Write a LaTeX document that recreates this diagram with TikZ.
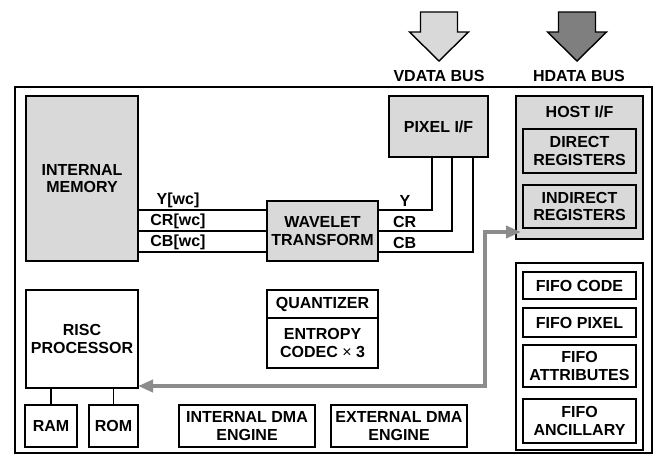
\documentclass[tikz,border=0pt]{standalone}
\usepackage{fontspec}
\setsansfont{Liberation Sans}
\usepackage{tikz}
\usetikzlibrary{arrows.meta,positioning}
\definecolor{chipgray}{HTML}{D9D9D9}
\definecolor{busgray}{HTML}{8C8C8C}
\definecolor{hostgray}{HTML}{7F7F7F}

\begin{document}
\begin{tikzpicture}[
 x=1pt,y=-1pt,font=\sffamily\bfseries\fontsize{16}{17.5}\selectfont,
 blk/.style={draw,line width=1.4pt,inner sep=0pt,outer sep=0pt,
   align=center,anchor=north west},
 gblk/.style={blk,fill=chipgray},
 wblk/.style={blk,fill=white},
 sig/.style={line width=1.4pt},
 lbl/.style={inner sep=0pt},
 bus/.style={{Triangle[length=15pt,width=12pt]}-{Triangle[length=15pt,width=12pt]},
   line width=4pt,busgray},
 fat/.style={draw,line width=1.4pt,line join=miter}
]
\useasboundingbox (0,0) rectangle (655,456);
% data buses coming in from outside
\draw[fat,fill=chipgray] (420.5,12) -- (457.5,12) -- (457.5,32) -- (468.5,32)
 -- (439,61) -- (409.5,32) -- (420.5,32) -- cycle;
\draw[fat,fill=hostgray] (558.5,12) -- (595.5,12) -- (595.5,32) -- (606.5,32)
 -- (577,61) -- (547.5,32) -- (558.5,32) -- cycle;
\node[lbl] (vdata) at (439,76) {VDATA BUS};
\node[lbl] (hdata) at (579,76) {HDATA BUS};
% chip outline
\draw[line width=2pt] (15,87) rectangle (652,453);
% blocks
\node[gblk,minimum width=112pt,minimum height=165pt] (mem) at (26,96) {INTERNAL\\MEMORY};
\node[gblk,minimum width=99pt,minimum height=61pt] (pixif) at (389,96) {PIXEL I/F};
\node[gblk,minimum width=111pt,minimum height=60pt] (wavelet) at (267,201) {WAVELET\\TRANSFORM};
\node[gblk,minimum width=127pt,minimum height=143pt] (host) at (516,96) {};
\node[lbl] (hostlbl) at (579.5,112) {HOST I/F};
\node[gblk,minimum width=113pt,minimum height=44pt] (direct) at (523,129) {DIRECT\\REGISTERS};
\node[gblk,minimum width=113pt,minimum height=43pt] (indirect) at (523,185) {INDIRECT\\REGISTERS};
\node[wblk,minimum width=127pt,minimum height=187pt] (fifo) at (516,263) {};
\node[wblk,minimum width=113pt,minimum height=27pt] (fcode) at (523,272) {FIFO CODE};
\node[wblk,minimum width=113pt,minimum height=29pt] (fpixel) at (523,308) {FIFO PIXEL};
\node[wblk,minimum width=113pt,minimum height=42pt] (fattr) at (523,345) {FIFO\\ATTRIBUTES};
\node[wblk,minimum width=113pt,minimum height=44pt] (fanc) at (523,399) {FIFO\\ANCILLARY};
\node[wblk,minimum width=112pt,minimum height=98pt] (risc) at (26,290) {RISC\\PROCESSOR};
\node[wblk,minimum width=52pt,minimum height=42pt] (ram) at (25,405) {RAM};
\node[wblk,minimum width=49pt,minimum height=42pt] (rom) at (89,405) {ROM};
\node[wblk,minimum width=136pt,minimum height=42pt] (intdma) at (179,405) {INTERNAL DMA\\ENGINE};
\node[wblk,minimum width=136pt,minimum height=42pt] (extdma) at (331,405) {EXTERNAL DMA\\ENGINE};
\node[wblk,minimum width=111pt,minimum height=28pt] (quant) at (267,290) {QUANTIZER};
\node[wblk,minimum width=111pt,minimum height=50pt,below=0pt of quant] (entropy)
 {ENTROPY\\CODEC {\mdseries ×} 3};
% component signals
\coordinate (yw) at ([yshift=21pt]wavelet.west);
\coordinate (crw) at (wavelet.west);
\coordinate (cbw) at ([yshift=-21pt]wavelet.west);
\draw[sig] (yw -| mem.east) -- node[lbl,pos=0.31,yshift=10pt] {Y[wc]} (yw);
\draw[sig] (crw -| mem.east) -- node[lbl,pos=0.31,yshift=10pt] {CR[wc]} (crw);
\draw[sig] (cbw -| mem.east) -- node[lbl,pos=0.31,yshift=10pt] {CB[wc]} (cbw);
\draw[sig] ([yshift=21pt]wavelet.east) -| node[lbl,pos=0.25,yshift=9pt] {Y}
 ([xshift=-6.5pt]pixif.south);
\draw[sig] (wavelet.east) -| node[lbl,pos=0.18,yshift=9pt] {CR}
 ([xshift=13.5pt]pixif.south);
\draw[sig] ([yshift=-21pt]wavelet.east) -| node[lbl,pos=0.14,yshift=9pt] {CB}
 ([xshift=34.5pt]pixif.south);
\draw[sig] (ram.north) -- (ram.north |- risc.south);
\draw[sig] (rom.north) -- (rom.north |- risc.south);
% processor to host bus
\draw[bus] ([yshift=2pt]risc.south east) -- ++(347,0)
 |- ([xshift=5pt,yshift=7pt]host.south west);
\end{tikzpicture}
\end{document}
